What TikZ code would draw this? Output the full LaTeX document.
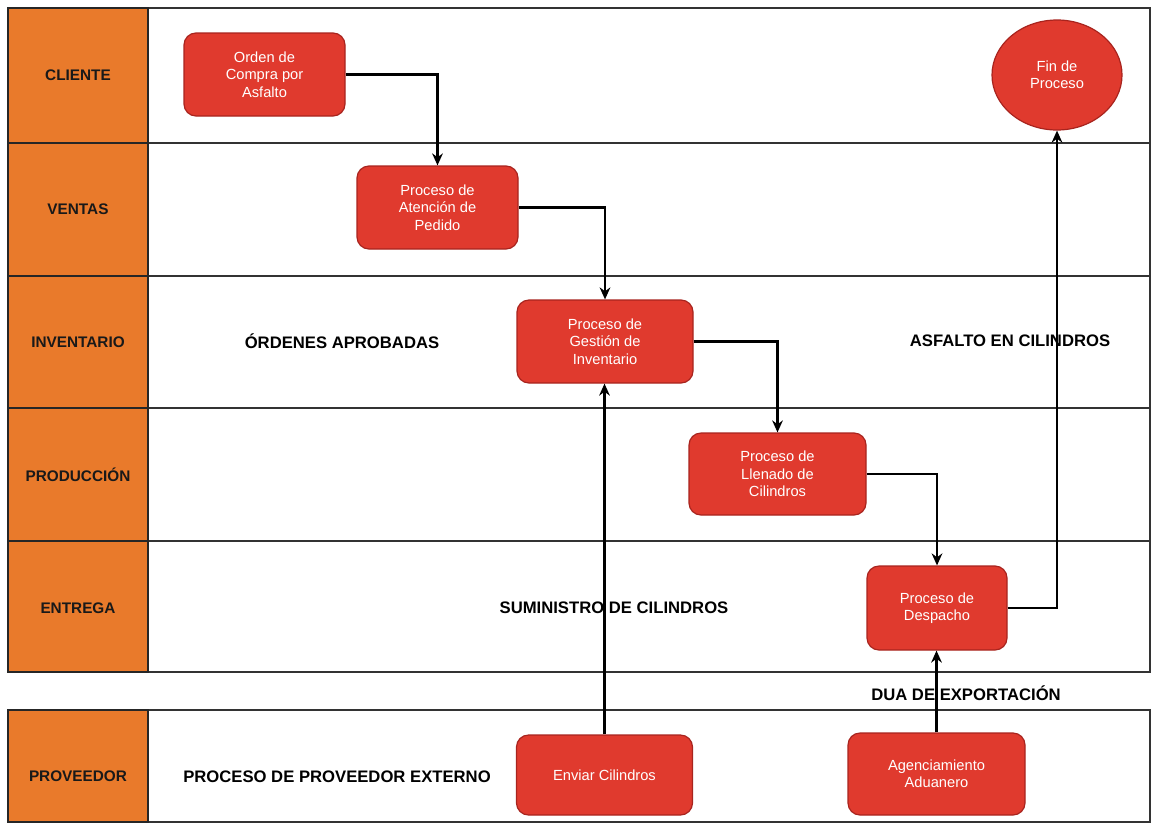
\documentclass[tikz,border=0pt]{standalone}
\usepackage{fontspec}
\setmainfont{Liberation Sans}
\usetikzlibrary{shapes.geometric,arrows.meta}
\definecolor{laneorange}{HTML}{E97A2B}
\definecolor{boxred}{HTML}{E03A2E}
\definecolor{boxedge}{HTML}{A8241E}
\definecolor{lineclr}{HTML}{333333}
\begin{document}
\begin{tikzpicture}[x=0.75pt,y=-0.75pt,
  laneline/.style={draw=lineclr, line width=1.1pt},
  headline/.style={draw=black!85, line width=1.4pt},
  proc/.style={rectangle, rounded corners=9pt, fill=boxred, draw=boxedge, line width=0.9pt,
    text=white, font=\fontsize{11}{13}\selectfont, align=center, inner sep=0pt},
  endproc/.style={ellipse, fill=boxred, draw=boxedge, line width=0.9pt,
    text=white, font=\fontsize{11}{13}\selectfont, align=center, inner sep=0pt},
  lanelabel/.style={font=\bfseries\fontsize{11.5}{13}\selectfont, text=black!90},
  flowlabel/.style={font=\bfseries\fontsize{12.5}{14}\selectfont, text=black},
  flow/.style={-{Stealth[length=9pt,width=8pt]}, line width=2.1pt, black}
]
\useasboundingbox (0,0) rectangle (1152,836);
% lanes
\fill[laneorange] (8,8) rectangle (148,672);
\fill[laneorange] (8,710) rectangle (148,822);
\draw[laneline] (8,8) rectangle (1150,672);
\draw[laneline] (8,710) rectangle (1150,822);
\foreach \yy in {143,276,408,541} \draw[laneline] (8,\yy) -- (1150,\yy);
\draw[headline] (8,8) rectangle (148,672);
\draw[headline] (8,710) rectangle (148,822);
\foreach \yy in {143,276,408,541} \draw[headline] (8,\yy) -- (148,\yy);
% lane labels
\node[lanelabel] (lcli) at (78,75) {CLIENTE};
\node[lanelabel] (lven) at (78,209) {VENTAS};
\node[lanelabel] (linv) at (78,342) {INVENTARIO};
\node[lanelabel] (lpro) at (78,475) {PRODUCCIÓN};
\node[lanelabel] (lent) at (78,608) {ENTREGA};
\node[lanelabel] (lprv) at (78,776) {PROVEEDOR};
% flow labels
\node[flowlabel] (tord) at (342,341) {ÓRDENES APROBADAS};
\node[flowlabel] (tasf) at (1010,341) {ASFALTO EN CILINDROS};
\node[flowlabel] (tsum) at (614,608) {SUMINISTRO DE CILINDROS};
\node[flowlabel] (tdua) at (966,693) {DUA DE EXPORTACIÓN};
\node[flowlabel] (tpex) at (337,777) {PROCESO DE PROVEEDOR EXTERNO};
% process boxes
\node[proc, minimum width=120.75pt, minimum height=62.25pt] (orden) at (264.5,74.5) {Orden de\\Compra por\\Asfalto};
\node[proc, minimum width=120.75pt, minimum height=62.25pt] (aten) at (437.5,207.5) {Proceso de\\Atención de\\Pedido};
\node[proc, minimum width=132pt, minimum height=62.25pt] (gest) at (605,341.5) {Proceso de\\Gestión de\\Inventario};
\node[proc, minimum width=132.75pt, minimum height=61.5pt] (llen) at (777.5,474) {Proceso de\\Llenado de\\Cilindros};
\node[proc, minimum width=105pt, minimum height=63pt] (desp) at (937,608) {Proceso de\\Despacho};
\node[proc, minimum width=132.75pt, minimum height=61.5pt] (agen) at (936.5,774) {Agenciamiento\\Aduanero};
\node[proc, minimum width=132pt, minimum height=60pt] (envi) at (604.5,775) {Enviar Cilindros};
\node[endproc, minimum width=97.5pt, minimum height=82.5pt] (fin) at (1057,75) {Fin de\\Proceso};
% connectors
\draw[flow] (orden.east) -| (aten.north);
\draw[flow] (aten.east) -| (gest.north);
\draw[flow] (gest.east) -| (llen.north);
\draw[flow] (llen.east) -| (desp.north);
\draw[flow] (desp.east) -| (fin.south);
\draw[flow] (envi.north) -- (envi.north |- gest.south);
\draw[flow] (agen.north) -- (agen.north |- desp.south);
\end{tikzpicture}
\end{document}
